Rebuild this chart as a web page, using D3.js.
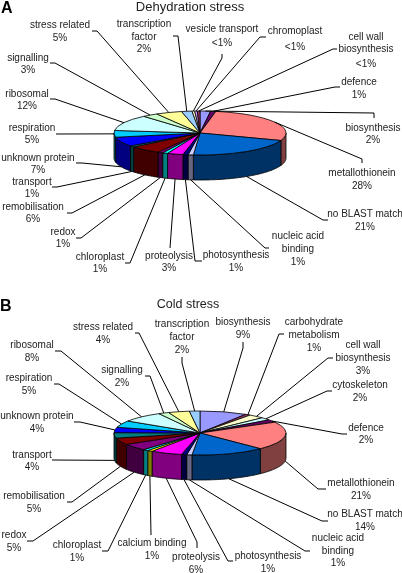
<!DOCTYPE html>
<html><head><meta charset="utf-8">
<script src="https://cdn.jsdelivr.net/npm/d3@7/dist/d3.min.js"></script>
<style>html,body{margin:0;padding:0;background:#fff}svg{display:block}text{font-family:"Liberation Sans",Arial,sans-serif}</style>
</head><body><svg id="c" width="402" height="573"><defs><filter id="soft" x="-5%" y="-5%" width="110%" height="110%"><feGaussianBlur stdDeviation="0.3"/></filter></defs></svg>
<script>
const categoriesA = ["biosynthesis","defence","metallothionein","no BLAST match","nucleic acid|binding","photosynthesis","proteolysis","chloroplast","redox","remobilisation","transport","unknown protein","respiration","ribosomal","signalling","stress related","transcription|factor","vesicle transport","chromoplast","cell wall|biosynthesis"];
const valuesA = [2,1,28,21,1,1,3,1,1,6,1,7,5,12,3,5,2,0.5,0.5,0.5];
const percentTextA = ["2%","1%","28%","21%","1%","1%","3%","1%","1%","6%","1%","7%","5%","12%","3%","5%","2%","<1%","<1%","<1%"];
const coloursA = ["#9999ff","#660066","#ff8080","#0066cc","#ccccff","#000080","#ff00ff","#00ffff","#800080","#800000","#008080","#0000ff","#00ccff","#ccffff","#ccffcc","#ffff99","#99ccff","#ffffcc","#cc99ff","#993366"];

const categoriesB = ["biosynthesis","carbohydrate|metabolism","cell wall|biosynthesis","cytoskeleton","defence","metallothionein","no BLAST match","nucleic acid|binding","photosynthesis","proteolysis","calcium binding","chloroplast","redox","remobilisation","transport","unknown protein","respiration","ribosomal","signalling","stress related","transcription|factor"];
const valuesB = [9,1,3,2,2,21,14,1,1,6,1,1,5,5,4,4,5,8,2,4,2];
const percentTextB = ["9%","1%","3%","2%","2%","21%","14%","1%","1%","6%","1%","1%","5%","5%","4%","4%","5%","8%","2%","4%","2%"];
const coloursB = ["#9999ff","#993366","#ffffcc","#ccffff","#660066","#ff8080","#0066cc","#ccccff","#000080","#ff00ff","#ffff00","#00ffff","#800080","#800000","#008080","#0000ff","#00ccff","#ccffff","#ccffcc","#ffff99","#99ccff"];

// label layout: centre x, y of each text line centre, leader attachment points (label end, elbow)
const labelLayoutA = [
 {x:373,ys:[127,139],lead:[[374,118],[374,113]]},
 {x:359,ys:[81,94],lead:[[340,87],[335,87]]},
 {x:362,ys:[172,185],lead:[[362,163],[362,159]]},
 {x:365,ys:[213,226],lead:[[328,220],[323,220]]},
 {x:298,ys:[235,248,261],lead:[[269,248],[265,248]]},
 {x:236,ys:[254,267],lead:[[202,261],[195,261]]},
 {x:169,ys:[255,267],lead:[[170,248]]},
 {x:100,ys:[256,268],lead:[[125,263],[130,263]]},
 {x:63,ys:[231,243],lead:[[76,238],[81,238]]},
 {x:33,ys:[206,218],lead:[[67,213],[72,213]]},
 {x:32,ys:[181,193],lead:[[52,187],[57,187]]},
 {x:38,ys:[157,169],lead:[[76,163],[82,163]]},
 {x:32,ys:[127,139],lead:[[56,134]]},
 {x:27,ys:[93,105],lead:[[50,99],[55,99]]},
 {x:28,ys:[57,69],lead:[[50,63],[55,63]]},
 {x:60,ys:[24,37],lead:[[92,31],[97,31]]},
 {x:144,ys:[23,36,48],lead:[[173,36],[178,36]]},
 {x:222,ys:[28,42],lead:[[222,54],[222,58]]},
 {x:295,ys:[30,46],lead:[[266,37],[260,37]]},
 {x:366,ys:[36,48,63],lead:[[337,49],[333,49]]}
];
const labelLayoutB = [
 {x:243,ys:[321,334],lead:[[243,342],[243,348]]},
 {x:314,ys:[321,334,347],lead:[[284,334],[279,334]]},
 {x:363,ys:[344,357,370],lead:[[333,358],[328,358]]},
 {x:360,ys:[384,397],lead:[[332,391],[327,391]]},
 {x:366,ys:[427,439],lead:[[347,434],[342,434]]},
 {x:361,ys:[482,495],lead:[[326,489],[318,489]]},
 {x:365,ys:[513,526],lead:[[328,521],[322,521]]},
 {x:338,ys:[537,550,562],lead:[[310,551],[305,551]]},
 {x:268,ys:[555,568],lead:[[233,561],[228,561]]},
 {x:196,ys:[556,569],lead:[[197,548],[197,542]]},
 {x:152,ys:[542,555],lead:[[151,535]]},
 {x:77,ys:[544,557],lead:[[102,551],[108,551]]},
 {x:14,ys:[534,547],lead:[[27,541],[33,541]]},
 {x:34,ys:[495,508],lead:[[67,502],[72,502]]},
 {x:32,ys:[454,466],lead:[[52,460]]},
 {x:37,ys:[415,428],lead:[[74,422],[80,422]]},
 {x:29,ys:[377,390],lead:[[54,384],[59,384]]},
 {x:32,ys:[344,357],lead:[[55,351],[61,351]]},
 {x:122,ys:[369,382],lead:[[145,376],[150,376]]},
 {x:103,ys:[326,339],lead:[[135,333],[139,333]]},
 {x:182,ys:[323,336,349],lead:[[182,357],[182,363]]}
];

const svg = d3.select("#c");
const RX = 86, RY = 22, DEPTH = 25, FONT = 10;
const root = svg.append("g").attr("filter","url(#soft)");

function shade(c){ const r = d3.rgb(c); return d3.rgb(r.r/2, r.g/2, r.b/2); }

function pie3d(cx, cy, cats, vals, pct, cols, layout){
  const g = root.append("g");
  const arcs = d3.pie().sort(null).value(d=>d)(vals);
  const px = a => cx + RX*Math.sin(a), py = a => cy - RY*Math.cos(a);
  const HALF = Math.PI/2, END = 3*Math.PI/2;

  // side wall (visible for the front half of the ellipse)
  arcs.forEach((d,i)=>{
    const a0 = Math.max(d.startAngle,HALF), a1 = Math.min(d.endAngle,END);
    if(a1<=a0) return;
    const n = Math.max(2,Math.ceil((a1-a0)*40));
    const angles = d3.range(n+1).map(k=>a0+(a1-a0)*k/n);
    const pts = angles.map(a=>[px(a),py(a)]).concat(angles.slice().reverse().map(a=>[px(a),py(a)+DEPTH]));
    g.append("path").attr("d",d3.line()(pts)+"Z").attr("fill",shade(cols[i]))
      .attr("stroke","#000").attr("stroke-width",0.8).attr("stroke-linejoin","round");
  });
  // top face, drawn with d3.arc on a circle squashed to an ellipse
  const arcGen = d3.arc().innerRadius(0).outerRadius(RX);
  const top = g.append("g").attr("transform",`translate(${cx},${cy}) scale(1,${RY/RX})`);
  top.selectAll("path").data(arcs).join("path")
    .attr("d",arcGen).attr("fill",(d,i)=>cols[i])
    .attr("stroke","#000").attr("stroke-width",0.8).attr("vector-effect","non-scaling-stroke");

  // leaders
  const line = d3.line();
  arcs.forEach((d,i)=>{
    const m = (d.startAngle+d.endAngle)/2;
    const onSide = Math.cos(m) < -0.07;
    const anchor = [px(m), py(m)+(onSide?DEPTH:0)];
    g.append("path").attr("d",line(layout[i].lead.concat([anchor])))
      .attr("fill","none").attr("stroke","#000").attr("stroke-width",1);
  });
  // labels
  arcs.forEach((d,i)=>{
    const lines = cats[i].split("|").concat([pct[i]]);
    lines.forEach((t,k)=>{
      g.append("text").attr("x",layout[i].x).attr("y",layout[i].ys[k]).attr("dy","0.35em")
       .attr("text-anchor","middle").attr("font-size",FONT).attr("fill","#222").text(t);
    });
  });
}

pie3d(200,133,categoriesA,valuesA,percentTextA,coloursA,labelLayoutA);
pie3d(200,433,categoriesB,valuesB,percentTextB,coloursB,labelLayoutB);

root.append("text").attr("x",190).attr("y",6).attr("dy","0.35em").attr("text-anchor","middle").attr("font-size",13).attr("fill","#222").text("Dehydration stress");
root.append("text").attr("x",188).attr("y",304).attr("dy","0.35em").attr("text-anchor","middle").attr("font-size",12.5).attr("fill","#222").text("Cold stress");
root.append("text").attr("x",1).attr("y",13).attr("font-size",16).attr("font-weight","bold").attr("fill","#000").text("A");
root.append("text").attr("x",0).attr("y",311).attr("font-size",16).attr("font-weight","bold").attr("fill","#000").text("B");
</script></body></html>
